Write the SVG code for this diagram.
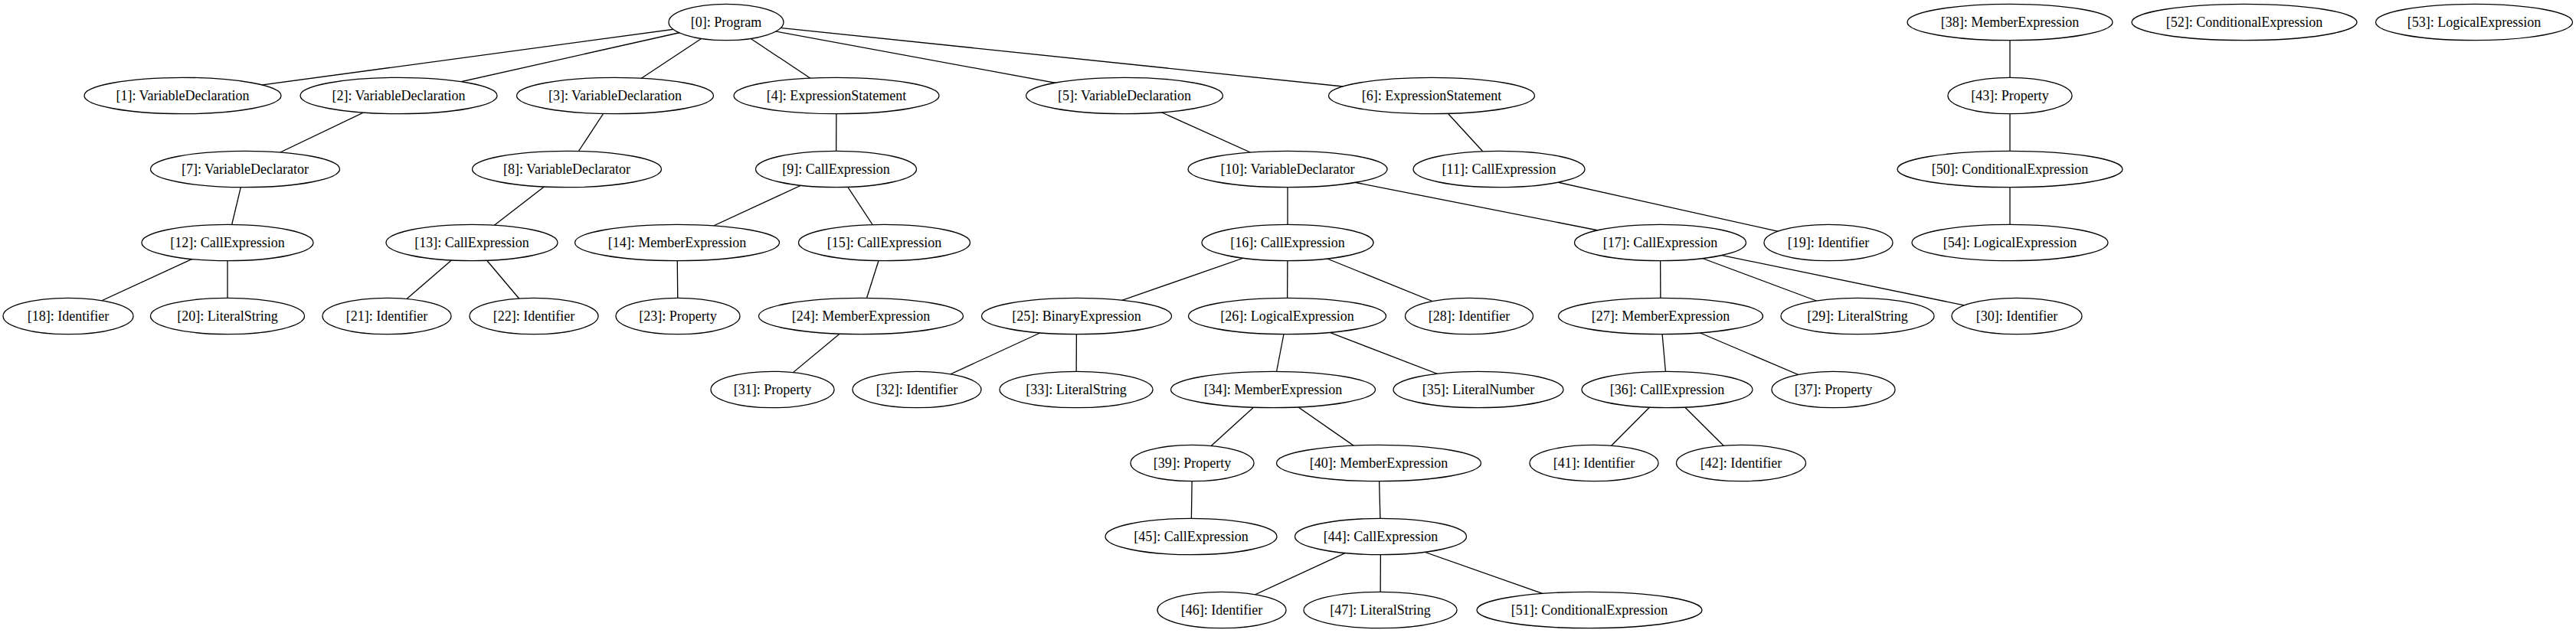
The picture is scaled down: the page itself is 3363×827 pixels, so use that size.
<svg xmlns="http://www.w3.org/2000/svg" width="3363" height="827" viewBox="0 0 3363 827">
<style>
.n ellipse{fill:#fff;stroke:#000;stroke-width:1.3}
.n text{font-family:"Liberation Serif","Times New Roman",serif;font-size:18px;text-anchor:middle;fill:#000}
#edges line{stroke:#000;stroke-width:1.3}
</style>
<rect width="3363" height="827" fill="#fff"/>
<g id="edges">
<line x1="948" y1="29" x2="238.5" y2="125"/>
<line x1="948" y1="29" x2="520.5" y2="125"/>
<line x1="948" y1="29" x2="803" y2="125"/>
<line x1="948" y1="29" x2="1092" y2="125"/>
<line x1="948" y1="29" x2="1468" y2="125"/>
<line x1="948" y1="29" x2="1869" y2="125"/>
<line x1="520.5" y1="125" x2="320" y2="221"/>
<line x1="803" y1="125" x2="740" y2="221"/>
<line x1="1092" y1="125" x2="1091.5" y2="221"/>
<line x1="1468" y1="125" x2="1681" y2="221"/>
<line x1="1869" y1="125" x2="1957" y2="221"/>
<line x1="320" y1="221" x2="297" y2="317"/>
<line x1="740" y1="221" x2="616" y2="317"/>
<line x1="1091.5" y1="221" x2="884" y2="317"/>
<line x1="1091.5" y1="221" x2="1154.5" y2="317"/>
<line x1="1681" y1="221" x2="1681" y2="317"/>
<line x1="1681" y1="221" x2="2167.5" y2="317"/>
<line x1="1957" y1="221" x2="2387" y2="317"/>
<line x1="297" y1="317" x2="89" y2="413"/>
<line x1="297" y1="317" x2="297" y2="413"/>
<line x1="616" y1="317" x2="505" y2="413"/>
<line x1="616" y1="317" x2="697" y2="413"/>
<line x1="884" y1="317" x2="885" y2="413"/>
<line x1="1154.5" y1="317" x2="1124" y2="413"/>
<line x1="1681" y1="317" x2="1405.5" y2="413"/>
<line x1="1681" y1="317" x2="1680.5" y2="413"/>
<line x1="1681" y1="317" x2="1918" y2="413"/>
<line x1="2167.5" y1="317" x2="2168" y2="413"/>
<line x1="2167.5" y1="317" x2="2425" y2="413"/>
<line x1="2167.5" y1="317" x2="2633" y2="413"/>
<line x1="1124" y1="413" x2="1008.5" y2="509"/>
<line x1="1405.5" y1="413" x2="1197" y2="509"/>
<line x1="1405.5" y1="413" x2="1405" y2="509"/>
<line x1="1680.5" y1="413" x2="1662" y2="509"/>
<line x1="1680.5" y1="413" x2="1930" y2="509"/>
<line x1="2168" y1="413" x2="2176.5" y2="509"/>
<line x1="2168" y1="413" x2="2393.5" y2="509"/>
<line x1="1662" y1="509" x2="1556.5" y2="605"/>
<line x1="1662" y1="509" x2="1800" y2="605"/>
<line x1="2176.5" y1="509" x2="2081" y2="605"/>
<line x1="2176.5" y1="509" x2="2273" y2="605"/>
<line x1="1556.5" y1="605" x2="1555" y2="701"/>
<line x1="1800" y1="605" x2="1802.5" y2="701"/>
<line x1="1802.5" y1="701" x2="1595" y2="797"/>
<line x1="1802.5" y1="701" x2="1802" y2="797"/>
<line x1="1802.5" y1="701" x2="2075" y2="797"/>
<line x1="2624" y1="29" x2="2624" y2="125"/>
<line x1="2624" y1="125" x2="2624" y2="221"/>
<line x1="2624" y1="221" x2="2624" y2="317"/>
</g>
<g id="n0" class="n"><ellipse cx="948" cy="29" rx="75" ry="23.7"/><text x="948" y="35">[0]: Program</text></g>
<g id="n1" class="n"><ellipse cx="238.5" cy="125" rx="128.5" ry="23.7"/><text x="238.5" y="131">[1]: VariableDeclaration</text></g>
<g id="n2" class="n"><ellipse cx="520.5" cy="125" rx="128.5" ry="23.7"/><text x="520.5" y="131">[2]: VariableDeclaration</text></g>
<g id="n3" class="n"><ellipse cx="803" cy="125" rx="128.5" ry="23.7"/><text x="803" y="131">[3]: VariableDeclaration</text></g>
<g id="n4" class="n"><ellipse cx="1092" cy="125" rx="134" ry="23.7"/><text x="1092" y="131">[4]: ExpressionStatement</text></g>
<g id="n5" class="n"><ellipse cx="1468" cy="125" rx="128.5" ry="23.7"/><text x="1468" y="131">[5]: VariableDeclaration</text></g>
<g id="n6" class="n"><ellipse cx="1869" cy="125" rx="134.5" ry="23.7"/><text x="1869" y="131">[6]: ExpressionStatement</text></g>
<g id="n7" class="n"><ellipse cx="320" cy="221" rx="123.5" ry="23.7"/><text x="320" y="227">[7]: VariableDeclarator</text></g>
<g id="n8" class="n"><ellipse cx="740" cy="221" rx="123.5" ry="23.7"/><text x="740" y="227">[8]: VariableDeclarator</text></g>
<g id="n9" class="n"><ellipse cx="1091.5" cy="221" rx="105" ry="23.7"/><text x="1091.5" y="227">[9]: CallExpression</text></g>
<g id="n10" class="n"><ellipse cx="1681" cy="221" rx="130" ry="23.7"/><text x="1681" y="227">[10]: VariableDeclarator</text></g>
<g id="n11" class="n"><ellipse cx="1957" cy="221" rx="112" ry="23.7"/><text x="1957" y="227">[11]: CallExpression</text></g>
<g id="n12" class="n"><ellipse cx="297" cy="317" rx="112" ry="23.7"/><text x="297" y="323">[12]: CallExpression</text></g>
<g id="n13" class="n"><ellipse cx="616" cy="317" rx="112" ry="23.7"/><text x="616" y="323">[13]: CallExpression</text></g>
<g id="n14" class="n"><ellipse cx="884" cy="317" rx="133.5" ry="23.7"/><text x="884" y="323">[14]: MemberExpression</text></g>
<g id="n15" class="n"><ellipse cx="1154.5" cy="317" rx="112" ry="23.7"/><text x="1154.5" y="323">[15]: CallExpression</text></g>
<g id="n16" class="n"><ellipse cx="1681" cy="317" rx="112" ry="23.7"/><text x="1681" y="323">[16]: CallExpression</text></g>
<g id="n17" class="n"><ellipse cx="2167.5" cy="317" rx="112" ry="23.7"/><text x="2167.5" y="323">[17]: CallExpression</text></g>
<g id="n19" class="n"><ellipse cx="2387" cy="317" rx="84" ry="23.7"/><text x="2387" y="323">[19]: Identifier</text></g>
<g id="n18" class="n"><ellipse cx="89" cy="413" rx="85" ry="23.7"/><text x="89" y="419">[18]: Identifier</text></g>
<g id="n20" class="n"><ellipse cx="297" cy="413" rx="100.5" ry="23.7"/><text x="297" y="419">[20]: LiteralString</text></g>
<g id="n21" class="n"><ellipse cx="505" cy="413" rx="84" ry="23.7"/><text x="505" y="419">[21]: Identifier</text></g>
<g id="n22" class="n"><ellipse cx="697" cy="413" rx="84" ry="23.7"/><text x="697" y="419">[22]: Identifier</text></g>
<g id="n23" class="n"><ellipse cx="885" cy="413" rx="81" ry="23.7"/><text x="885" y="419">[23]: Property</text></g>
<g id="n24" class="n"><ellipse cx="1124" cy="413" rx="133.5" ry="23.7"/><text x="1124" y="419">[24]: MemberExpression</text></g>
<g id="n25" class="n"><ellipse cx="1405.5" cy="413" rx="124" ry="23.7"/><text x="1405.5" y="419">[25]: BinaryExpression</text></g>
<g id="n26" class="n"><ellipse cx="1680.5" cy="413" rx="129" ry="23.7"/><text x="1680.5" y="419">[26]: LogicalExpression</text></g>
<g id="n28" class="n"><ellipse cx="1918" cy="413" rx="83.5" ry="23.7"/><text x="1918" y="419">[28]: Identifier</text></g>
<g id="n27" class="n"><ellipse cx="2168" cy="413" rx="133.5" ry="23.7"/><text x="2168" y="419">[27]: MemberExpression</text></g>
<g id="n29" class="n"><ellipse cx="2425" cy="413" rx="100" ry="23.7"/><text x="2425" y="419">[29]: LiteralString</text></g>
<g id="n30" class="n"><ellipse cx="2633" cy="413" rx="85" ry="23.7"/><text x="2633" y="419">[30]: Identifier</text></g>
<g id="n31" class="n"><ellipse cx="1008.5" cy="509" rx="80.5" ry="23.7"/><text x="1008.5" y="515">[31]: Property</text></g>
<g id="n32" class="n"><ellipse cx="1197" cy="509" rx="84" ry="23.7"/><text x="1197" y="515">[32]: Identifier</text></g>
<g id="n33" class="n"><ellipse cx="1405" cy="509" rx="100" ry="23.7"/><text x="1405" y="515">[33]: LiteralString</text></g>
<g id="n34" class="n"><ellipse cx="1662" cy="509" rx="133.5" ry="23.7"/><text x="1662" y="515">[34]: MemberExpression</text></g>
<g id="n35" class="n"><ellipse cx="1930" cy="509" rx="111" ry="23.7"/><text x="1930" y="515">[35]: LiteralNumber</text></g>
<g id="n36" class="n"><ellipse cx="2176.5" cy="509" rx="111.5" ry="23.7"/><text x="2176.5" y="515">[36]: CallExpression</text></g>
<g id="n37" class="n"><ellipse cx="2393.5" cy="509" rx="80.5" ry="23.7"/><text x="2393.5" y="515">[37]: Property</text></g>
<g id="n39" class="n"><ellipse cx="1556.5" cy="605" rx="80.5" ry="23.7"/><text x="1556.5" y="611">[39]: Property</text></g>
<g id="n40" class="n"><ellipse cx="1800" cy="605" rx="133.5" ry="23.7"/><text x="1800" y="611">[40]: MemberExpression</text></g>
<g id="n41" class="n"><ellipse cx="2081" cy="605" rx="84" ry="23.7"/><text x="2081" y="611">[41]: Identifier</text></g>
<g id="n42" class="n"><ellipse cx="2273" cy="605" rx="84.5" ry="23.7"/><text x="2273" y="611">[42]: Identifier</text></g>
<g id="n45" class="n"><ellipse cx="1555" cy="701" rx="112" ry="23.7"/><text x="1555" y="707">[45]: CallExpression</text></g>
<g id="n44" class="n"><ellipse cx="1802.5" cy="701" rx="112" ry="23.7"/><text x="1802.5" y="707">[44]: CallExpression</text></g>
<g id="n46" class="n"><ellipse cx="1595" cy="797" rx="84" ry="23.7"/><text x="1595" y="803">[46]: Identifier</text></g>
<g id="n47" class="n"><ellipse cx="1802" cy="797" rx="100" ry="23.7"/><text x="1802" y="803">[47]: LiteralString</text></g>
<g id="n51" class="n"><ellipse cx="2075" cy="797" rx="147" ry="23.7"/><text x="2075" y="803">[51]: ConditionalExpression</text></g>
<g id="n38" class="n"><ellipse cx="2624" cy="29" rx="134" ry="23.7"/><text x="2624" y="35">[38]: MemberExpression</text></g>
<g id="n52" class="n"><ellipse cx="2930" cy="29" rx="147" ry="23.7"/><text x="2930" y="35">[52]: ConditionalExpression</text></g>
<g id="n53" class="n"><ellipse cx="3230" cy="29" rx="128.5" ry="23.7"/><text x="3230" y="35">[53]: LogicalExpression</text></g>
<g id="n43" class="n"><ellipse cx="2624" cy="125" rx="81" ry="23.7"/><text x="2624" y="131">[43]: Property</text></g>
<g id="n50" class="n"><ellipse cx="2624" cy="221" rx="147" ry="23.7"/><text x="2624" y="227">[50]: ConditionalExpression</text></g>
<g id="n54" class="n"><ellipse cx="2624" cy="317" rx="128" ry="23.7"/><text x="2624" y="323">[54]: LogicalExpression</text></g>
</svg>
